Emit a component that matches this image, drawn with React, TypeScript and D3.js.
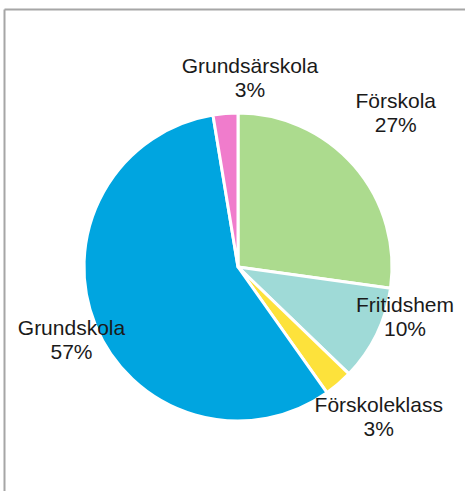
import React from "react";
import * as d3 from "d3";

const categories = ["Förskola", "Fritidshem", "Förskoleklass", "Grundskola", "Grundsärskola"];
const values = [27.2, 10.0, 3.0, 57.2, 2.6];
const colors = ["#acdb8e", "#9fdad7", "#fde23b", "#00a5e0", "#f07ccc"];
// label placement (layout, not data): angle shift from slice middle (deg) and radius of first baseline
const labelAngleShift = [-4.2, -10.8, -3.5, 0, 8.2];
const labelRadius = [224, 173, 202, 180, 194];

const W = 465;
const H = 491;
const cx = 238;
const cy = 267;
const R = 154;

export default function App() {
  const pie = d3.pie<number>().sort(null).value((d) => d)(values);
  const arc = d3.arc<d3.PieArcDatum<number>>().innerRadius(0).outerRadius(R);
  const total = d3.sum(values);
  return (
    <svg
      width={W}
      height={H}
      style={{ position: "absolute", left: 0, top: 0 }}
      fontFamily="'Liberation Sans', Arial, sans-serif"
    >
      <rect x={0} y={0} width={W} height={H} fill="#fff" />
      <line x1={4.5} y1={9.5} x2={W} y2={9.5} stroke="#a6a6a6" strokeWidth={2} />
      <line x1={4.5} y1={9.5} x2={4.5} y2={H} stroke="#a6a6a6" strokeWidth={2} />
      <g transform={`translate(${cx},${cy})`}>
        {pie.map((p, i) => (
          <path key={i} d={arc(p) || ""} fill={colors[i]} stroke="#fff" strokeWidth={3} strokeLinejoin="round" />
        ))}
        {pie.map((p, i) => {
          const mid = (p.startAngle + p.endAngle) / 2 + (labelAngleShift[i] * Math.PI) / 180;
          const r = labelRadius[i];
          const x = r * Math.sin(mid);
          const y = -r * Math.cos(mid);
          const pct = Math.round((values[i] / total) * 100) + "%";
          return (
            <text key={"t" + i} x={x} y={y} textAnchor="middle" fontSize={21} fill="#1a1a1a">
              <tspan x={x} dy={0}>{categories[i]}</tspan>
              <tspan x={x} dy={24}>{pct}</tspan>
            </text>
          );
        })}
      </g>
    </svg>
  );
}
